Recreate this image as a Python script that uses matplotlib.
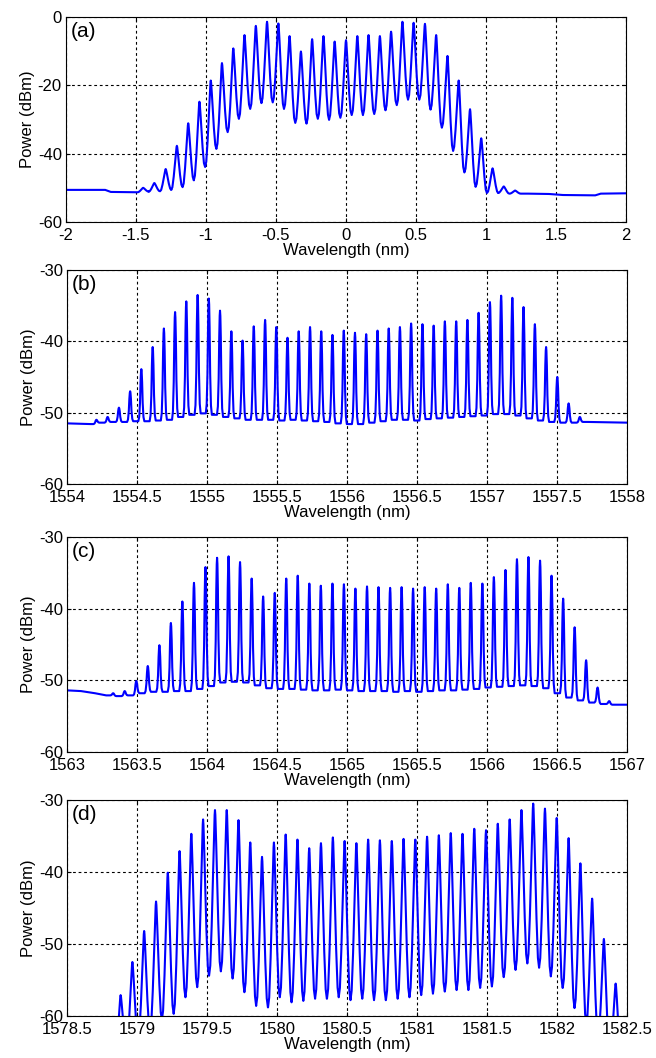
import numpy as np
import matplotlib
matplotlib.use("Agg")
import matplotlib.pyplot as plt

plt.rcParams['font.family'] = ['Liberation Sans', 'DejaVu Sans']
plt.rcParams['axes.unicode_minus'] = False

# ---- panel (a): comb lines (nm offset), peak levels, valley levels (dBm)
a_lines = [-1.449, -1.369, -1.288, -1.208, -1.127, -1.047, -0.966, -0.886, -0.805, -0.725,
           -0.644, -0.564, -0.483, -0.403, -0.322, -0.242, -0.161, -0.081, 0.0, 0.081,
           0.161, 0.242, 0.322, 0.403, 0.483, 0.564, 0.644, 0.725, 0.805, 0.886,
           0.966, 1.047, 1.127, 1.208]
a_peaks = [-50.0, -48.6, -44.5, -37.7, -31.1, -24.8, -18.6, -13.5, -9.2, -5.3,
           -2.6, -1.4, -1.9, -5.6, -10.1, -6.5, -5.6, -7.2, -6.8, -5.6,
           -5.3, -5.6, -4.3, -1.4, -1.7, -2.0, -5.3, -11.4, -18.6, -27.0,
           -35.5, -44.3, -49.6, -50.8]
a_valleys = [-51.1, -51.0, -50.6, -49.8, -47.8, -43.9, -38.6, -33.7, -29.8, -26.9,
             -25.2, -25.0, -26.9, -31.0, -31.2, -29.8, -30.1, -29.5, -28.7, -28.7,
             -28.4, -27.3, -25.8, -24.2, -24.2, -27.1, -32.4, -39.2, -45.5, -49.7,
             -51.5, -51.5, -51.7]
a_base_left = ([-2.0, -1.72, -1.68, -1.52], [-50.6, -50.6, -51.2, -51.3])
a_base_right = ([1.30, 1.45, 1.55, 1.78, 1.82, 2.0], [-51.7, -51.8, -52.1, -52.2, -51.7, -51.6])

# ---- panel (b)
b_lines = [1554.210, 1554.290, 1554.371, 1554.451, 1554.531, 1554.612, 1554.692, 1554.772,
           1554.852, 1554.933, 1555.013, 1555.093, 1555.174, 1555.254, 1555.334, 1555.415,
           1555.495, 1555.575, 1555.655, 1555.736, 1555.816, 1555.896, 1555.977, 1556.057,
           1556.137, 1556.218, 1556.298, 1556.378, 1556.458, 1556.539, 1556.619, 1556.699,
           1556.780, 1556.860, 1556.940, 1557.021, 1557.101, 1557.181, 1557.261, 1557.342,
           1557.422, 1557.502, 1557.583, 1557.663]
b_peaks = [-51.0, -50.6, -49.3, -47.0, -43.9, -40.8, -38.2, -35.9, -34.4, -33.5, -34.0,
           -35.7, -38.6, -39.9, -37.9, -37.0, -38.0, -39.5, -38.6, -38.0, -38.6, -39.1,
           -38.5, -38.8, -39.0, -38.5, -38.2, -38.0, -37.5, -37.6, -37.8, -37.2, -37.2,
           -37.0, -36.0, -34.5, -33.6, -33.9, -35.2, -37.6, -40.8, -45.0, -48.7, -50.6]
b_valleys = [-51.4, -51.3, -51.3, -51.2, -51.2, -51.1, -51.0, -50.6, -50.3, -50.1, -50.3,
             -50.6, -50.8, -51.0, -51.0, -51.0, -51.1, -51.0, -51.1, -51.2, -51.3, -51.5,
             -51.6, -51.6, -51.4, -51.2, -51.0, -51.0, -51.1, -50.9, -50.8, -50.7, -50.6,
             -50.5, -50.4, -50.2, -50.2, -50.4, -50.8, -51.1, -51.3, -51.4, -51.4]
b_base_left = ([1554.0, 1554.15], [-51.5, -51.6])
b_base_right = ([1557.72, 1558.0], [-51.3, -51.4])

# ---- panel (c)
c_lines = [1563.330, 1563.412, 1563.495, 1563.577, 1563.660, 1563.742, 1563.824, 1563.907,
           1563.989, 1564.072, 1564.154, 1564.236, 1564.319, 1564.401, 1564.484, 1564.566,
           1564.648, 1564.731, 1564.813, 1564.896, 1564.978, 1565.060, 1565.143, 1565.225,
           1565.308, 1565.390, 1565.472, 1565.555, 1565.637, 1565.720, 1565.802, 1565.884,
           1565.967, 1566.049, 1566.132, 1566.214, 1566.296, 1566.379, 1566.461, 1566.544,
           1566.626, 1566.708, 1566.790, 1566.873]
c_peaks = [-51.8, -51.5, -50.1, -48.0, -45.1, -42.0, -39.0, -36.4, -34.2, -32.9, -32.7,
           -33.5, -35.8, -38.3, -37.8, -35.8, -35.4, -36.5, -36.8, -36.5, -36.6, -37.2,
           -36.9, -37.0, -37.1, -37.0, -37.2, -37.0, -37.2, -36.6, -37.1, -36.4, -36.5,
           -35.6, -34.6, -33.1, -32.8, -33.3, -35.4, -38.6, -42.6, -47.2, -51.0, -52.9]
c_valleys = [-52.2, -52.1, -51.8, -51.6, -51.6, -51.5, -51.5, -51.2, -50.8, -50.3, -50.2,
             -50.3, -50.7, -51.1, -51.2, -51.2, -51.3, -51.4, -51.4, -51.3, -51.4, -51.5,
             -51.5, -51.5, -51.6, -51.5, -51.6, -51.5, -51.4, -51.4, -51.3, -51.2, -51.0,
             -50.9, -50.8, -50.7, -50.8, -51.1, -51.8, -52.4, -52.8, -53.1, -53.3]
c_base_left = ([1563.0, 1563.1, 1563.2, 1563.28], [-51.4, -51.5, -51.8, -52.1])
c_base_right = ([1566.95, 1567.0], [-53.4, -53.4])

# ---- panel (d)
d_lines = [1578.883, 1578.967, 1579.051, 1579.136, 1579.220, 1579.304, 1579.388, 1579.472,
           1579.557, 1579.641, 1579.725, 1579.809, 1579.893, 1579.978, 1580.062, 1580.146,
           1580.230, 1580.314, 1580.399, 1580.483, 1580.567, 1580.651, 1580.735, 1580.820,
           1580.904, 1580.988, 1581.072, 1581.156, 1581.241, 1581.325, 1581.409, 1581.493,
           1581.577, 1581.662, 1581.746, 1581.830, 1581.914, 1581.998, 1582.083, 1582.167,
           1582.251, 1582.335, 1582.419]
d_peaks = [-57.1, -52.5, -48.2, -44.1, -40.1, -37.1, -34.7, -32.7, -31.4, -31.4, -32.8,
           -35.9, -37.9, -35.9, -34.8, -35.5, -36.7, -36.0, -35.2, -35.7, -36.0, -35.5,
           -35.6, -35.7, -35.4, -35.5, -35.1, -34.9, -34.6, -34.7, -34.0, -34.2, -33.3,
           -32.7, -31.4, -30.5, -31.2, -32.5, -35.3, -38.8, -43.7, -49.3, -55.5]
d_valleys = [-64.0, -63.0, -62.0, -60.5, -59.7, -57.4, -56.0, -54.4, -53.8, -54.8, -56.7,
             -58.6, -58.8, -57.4, -58.1, -57.9, -57.6, -57.6, -57.4, -57.8, -57.6, -57.8,
             -57.8, -57.6, -57.4, -57.1, -56.9, -56.6, -56.4, -56.4, -56.1, -55.9, -54.6,
             -53.6, -52.7, -53.3, -54.5, -56.1, -58.9, -61.0, -63.0, -65.0]
d_base_left = ([1578.5, 1578.8], [-66.0, -66.0])
d_base_right = ([1582.46, 1582.5], [-66.0, -66.0])

# line shape around each comb line: (offset in line spacings, fraction valley->peak)
wide_shape = [(-0.5, 0.0), (-0.4, 0.06), (-0.28, 0.3), (-0.1, 0.8), (-0.03, 0.97), (0.0, 1.0)]
narrow_shape = [(-0.5, 0.0), (-0.27, 0.0), (-0.19, 0.08), (-0.12, 0.35), (-0.07, 0.75),
                (-0.03, 0.95), (0.0, 1.0)]


def comb_trace(lines, peaks, valleys, base_left, base_right, shape):
    step = np.mean(np.diff(lines))
    prof = shape + [(-o, f) for o, f in reversed(shape[:-1])]
    lv = [base_left[1][-1]] + list(valleys)
    rv = list(valleys) + [base_right[1][0]]
    xs, ys = list(base_left[0]), list(base_left[1])
    for p, h, vl, vr in zip(lines, peaks, lv, rv):
        for o, f in prof:
            v = vl if o < 0 else vr
            xs.append(p + o * step)
            ys.append(v + f * (h - v))
    xs += list(base_right[0])
    ys += list(base_right[1])
    return xs, ys


panels = [
    ("(a)", a_lines, a_peaks, a_valleys, a_base_left, a_base_right, wide_shape,
     (-2, 2), (-60, 0), np.arange(-2, 2.01, 0.5), [0, -20, -40, -60],
     [66, 17, 222]),
    ("(b)", b_lines, b_peaks, b_valleys, b_base_left, b_base_right, narrow_shape,
     (1554, 1558), (-60, -30), np.arange(1554, 1558.01, 0.5), [-30, -40, -50, -60],
     [67, 270, 484]),
    ("(c)", c_lines, c_peaks, c_valleys, c_base_left, c_base_right, narrow_shape,
     (1563, 1567), (-60, -30), np.arange(1563, 1567.01, 0.5), [-30, -40, -50, -60],
     [67, 537, 752]),
    ("(d)", d_lines, d_peaks, d_valleys, d_base_left, d_base_right, wide_shape,
     (1578.5, 1582.5), (-60, -30), np.arange(1578.5, 1582.51, 0.5), [-30, -40, -50, -60],
     [67, 800, 1016]),
]

W, H = 656, 1058
fig = plt.figure(figsize=(W / 100, H / 100), dpi=100)

for tag, lines, peaks, valleys, bl, br, shape, xl, yl, xt, yt, box in panels:
    left, top, bottom = box
    ax = fig.add_axes([left / W, 1 - bottom / H, 560 / W, (bottom - top) / H])
    xs, ys = comb_trace(lines, peaks, valleys, bl, br, shape)
    ax.plot(xs, ys, color='#0000ff', lw=1.5)
    ax.set_xlim(*xl)
    ax.set_ylim(*yl)
    ax.set_xticks(xt)
    ax.set_xticklabels(['%g' % v for v in xt])
    ax.set_yticks(yt)
    ax.grid(True, color='black', linestyle=(0, (2.5, 2.5)), linewidth=0.8)
    ax.tick_params(direction='in', length=3, labelsize=12, top=True, right=True)
    ax.tick_params(axis='x', pad=4)
    ax.tick_params(axis='y', pad=3)
    for s in ax.spines.values():
        s.set_linewidth(0.8)
    ax.set_xlabel('Wavelength (nm)', fontsize=12, labelpad=0)
    ax.set_ylabel('Power (dBm)', fontsize=12, labelpad=2)
    ax.text(0.008, 0.975, tag, transform=ax.transAxes, fontsize=15, va='top', ha='left')

fig.savefig('out.png', dpi=100)
